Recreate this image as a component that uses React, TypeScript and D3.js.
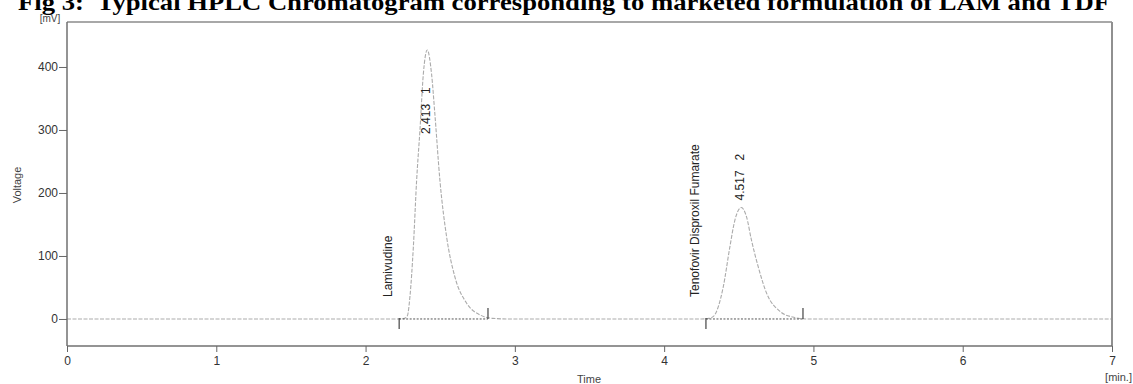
import * as d3 from "d3";
import React, { useRef, useEffect } from "react";

// chromatogram trace (time in min, voltage in mV)
const traceTime = [0, 2.2, 2.26, 2.28, 2.297, 2.32, 2.342, 2.364, 2.387, 2.413, 2.442, 2.464, 2.498, 2.543, 2.598, 2.677, 2.77, 2.85, 2.95, 4.25, 4.3, 4.33, 4.396, 4.44, 4.474, 4.517, 4.552, 4.585, 4.63, 4.686, 4.776, 4.86, 4.95, 7];
const traceVolt = [0, 0, 1, 5, 35, 114, 220, 299, 389, 427, 389, 326, 220, 130, 67, 25, 6, 1, 0, 0, 1, 4, 51, 114, 157, 177, 162, 125, 83, 41, 12, 3, 0, 0];

// peaks
const peakNames = ["Lamivudine", "Tenofovir Disproxil Fumarate"];
const peakRT = [2.413, 4.517];
const peakHeight = [427, 177];
const peakNo = [1, 2];
const peakStart = [2.225, 4.28];
const peakEnd = [2.82, 4.93];

const xTicks = [0, 1, 2, 3, 4, 5, 6, 7];
const yTicks = [0, 100, 200, 300, 400];

const title = "Fig 3:  Typical HPLC Chromatogram corresponding to marketed formulation of LAM and TDF";

const W = 1133;
const H = 384;
const left = 67, right = 1112, top = 22, bottom = 346;

const App: React.FC = () => {
  const svgRef = useRef<SVGSVGElement | null>(null);

  useEffect(() => {
    const svg = d3.select(svgRef.current);
    svg.selectAll("*").remove();

    const x = d3.scaleLinear().domain([0, 7]).range([left, right]);
    const y = d3.scaleLinear().domain([-42.9, 471.4]).range([bottom, top]);

    svg.append("rect").attr("width", W).attr("height", H).attr("fill", "#fff");

    // title (cut at the top like the scan)
    svg.append("text")
      .attr("x", 18)
      .attr("y", 10)
      .attr("font-family", "Liberation Serif, Times New Roman, serif")
      .attr("font-weight", "bold")
      .attr("font-size", 24)
      .attr("textLength", 1092)
      .attr("lengthAdjust", "spacingAndGlyphs")
      .attr("fill", "#000")
      .style("white-space", "pre")
      .text(title);

    // trace
    const data = traceTime.map((t, i) => ({ t, v: traceVolt[i] }));
    const line = d3.line<{ t: number; v: number }>()
      .x(d => x(d.t))
      .y(d => y(d.v))
      .curve(d3.curveMonotoneX);

    svg.append("path")
      .attr("d", line(data))
      .attr("fill", "none")
      .attr("stroke", "#ababab")
      .attr("stroke-width", 1.1)
      .attr("stroke-dasharray", "4,1.5");

    // integration baselines + markers
    peakStart.forEach((s, i) => {
      const e = peakEnd[i];
      svg.append("line")
        .attr("x1", x(s)).attr("x2", x(e))
        .attr("y1", y(0)).attr("y2", y(0))
        .attr("stroke", "#555")
        .attr("stroke-width", 1)
        .attr("stroke-dasharray", "2,1.5");
      svg.append("line")
        .attr("x1", x(s)).attr("x2", x(s))
        .attr("y1", y(0) - 1).attr("y2", y(0) + 10)
        .attr("stroke", "#444").attr("stroke-width", 1.2);
      svg.append("line")
        .attr("x1", x(e)).attr("x2", x(e))
        .attr("y1", y(0) - 11).attr("y2", y(0))
        .attr("stroke", "#444").attr("stroke-width", 1.2);
    });

    const labelFont = "Liberation Sans Narrow, Arial Narrow, Liberation Sans, Arial, sans-serif";

    // peak names (vertical)
    peakNames.forEach((name, i) => {
      const px = x(peakStart[i]) - 10;
      svg.append("text")
        .attr("transform", `translate(${px},${y(0) - 22}) rotate(-90)`)
        .attr("font-family", labelFont)
        .attr("font-size", 12)
        .attr("fill", "#222")
        .attr("dominant-baseline", "middle")
        .text(name);
    });

    // retention time labels (vertical)
    peakRT.forEach((rt, i) => {
      const py = i === 0 ? y(peakHeight[i]) + 84 : y(peakHeight[i]) - 7;
      svg.append("text")
        .attr("transform", `translate(${x(rt)},${py}) rotate(-90)`)
        .attr("font-family", labelFont)
        .attr("font-size", 12)
        .attr("fill", "#222")
        .attr("dominant-baseline", "middle")
        .style("white-space", "pre")
        .text(`${rt.toFixed(3)}   ${peakNo[i]}`);
    });

    // frame
    svg.append("line").attr("x1", left).attr("x2", right).attr("y1", top).attr("y2", top)
      .attr("stroke", "#a8a8a8").attr("stroke-width", 2);
    svg.append("line").attr("x1", right).attr("x2", right).attr("y1", top).attr("y2", bottom)
      .attr("stroke", "#909090").attr("stroke-width", 2);

    // axes
    const yAxis = d3.axisLeft(y).tickValues(yTicks).tickSize(8).tickPadding(1).tickFormat(d3.format("d"));
    const gy = svg.append("g").attr("transform", `translate(${left},0)`).call(yAxis);
    gy.select(".domain").attr("d", `M0,${top}V${bottom}`).attr("stroke", "#707070").attr("stroke-width", 1.5);

    const xAxis = d3.axisBottom(x).tickValues(xTicks).tickSize(6).tickPadding(4).tickFormat(d3.format("d"));
    const gx = svg.append("g").attr("transform", `translate(0,${bottom})`).call(xAxis);
    gx.select(".domain").attr("d", `M${left},0H${right}`).attr("stroke", "#707070").attr("stroke-width", 1.5);

    [gx, gy].forEach(g => {
      g.selectAll(".tick line").attr("stroke", "#666");
      g.selectAll(".tick text")
        .attr("font-family", "Liberation Sans, Arial, sans-serif")
        .attr("font-size", 12)
        .attr("fill", "#333");
    });

    // axis titles
    const small = "Liberation Sans, Arial, sans-serif";
    svg.append("text").attr("x", 50).attr("y", 22).attr("text-anchor", "middle")
      .attr("font-family", small).attr("font-size", 10).attr("fill", "#444").text("[mV]");
    svg.append("text").attr("transform", `translate(21,185) rotate(-90)`).attr("text-anchor", "middle")
      .attr("font-family", small).attr("font-size", 11).attr("fill", "#444").text("Voltage");
    svg.append("text").attr("x", 589).attr("y", 383).attr("text-anchor", "middle")
      .attr("font-family", small).attr("font-size", 11).attr("fill", "#444").text("Time");
    svg.append("text").attr("x", 1132).attr("y", 381).attr("text-anchor", "end")
      .attr("font-family", small).attr("font-size", 11).attr("fill", "#444").text("[min.]");
  }, []);

  return (
    <svg
      ref={svgRef}
      width={W}
      height={H}
      style={{ position: "absolute", left: 0, top: 0 }}
    />
  );
};

export default App;
